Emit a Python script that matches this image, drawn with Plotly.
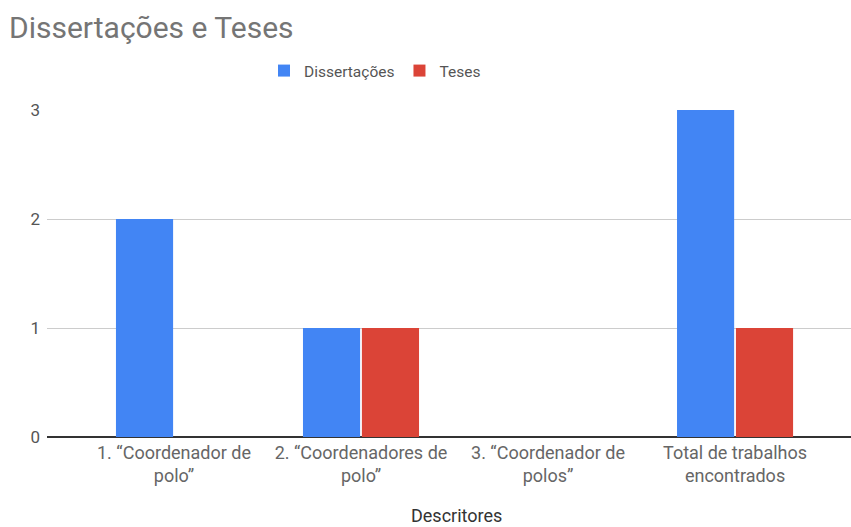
import plotly.graph_objects as go

categories = ['1. “Coordenador de<br>polo”', '2. “Coordenadores de<br>polo”',
              '3. “Coordenador de<br>polos”', 'Total de trabalhos<br>encontrados']
dissertacoes = [2, 1, 0, 3]
teses = [0, 1, 0, 1]

fig = go.Figure()
fig.add_trace(go.Bar(name='Dissertações', x=categories, y=dissertacoes,
                     marker=dict(color='#4285F4', line=dict(width=0))))
fig.add_trace(go.Bar(name='Teses', x=categories, y=teses,
                     marker=dict(color='#DB4437', line=dict(width=0))))

W, H = 851, 527
L, R, T, B = 47, 0, 110, 90
PH = H - T - B
fig.update_layout(
    width=W, height=H,
    margin=dict(l=L, r=R, t=T, b=B),
    paper_bgcolor='white', plot_bgcolor='white',
    font=dict(family='Roboto, Arial, sans-serif', size=16, color='#444444'),
    barmode='group', bargap=0.37, bargroupgap=0.03,
    title=dict(text='Dissertações e Teses', x=9 / W, xanchor='left', xref='container',
               y=1 - 27 / H, yanchor='middle', yref='container',
               font=dict(size=30, color='#757575')),
    legend=dict(orientation='h', x=(375 - L) / (W - L), xanchor='center',
                y=(437 - 71) / PH, yanchor='middle', font=dict(size=15.5, color='#555555'),
                itemwidth=30, traceorder='normal'),
    xaxis=dict(type='category', range=[-0.679, 3.62], showgrid=False,
               tickfont=dict(size=18, color='#666666'), ticks='', ticklabelstandoff=3),
    yaxis=dict(range=[0, 3], tickvals=[0, 1, 2, 3], gridcolor='#cccccc', gridwidth=1,
               zeroline=True, zerolinecolor='#333333', zerolinewidth=1.5,
               tickfont=dict(size=17, color='#555555'), ticks='', ticklabelstandoff=6),
    annotations=[dict(text='Descritores', xref='paper', yref='paper',
                      x=(456 - L) / (W - L), y=(437 - 528) / PH,
                      xanchor='center', yanchor='bottom', showarrow=False,
                      font=dict(size=18, color='#333333'))],
)
fig.write_html('out.html')
